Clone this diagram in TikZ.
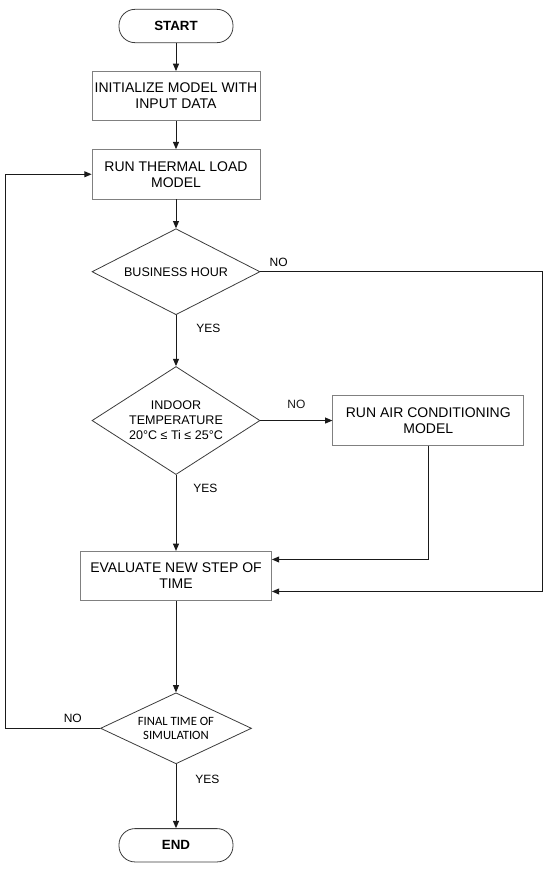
\documentclass[tikz,border=0pt]{standalone}
\usepackage{fontspec}
\setmainfont{Liberation Sans}
\newfontfamily\calfont{Carlito}
\definecolor{Ink}{HTML}{1A1A1A}
\definecolor{Frame}{HTML}{808080}
\definecolor{Rim}{HTML}{3C3C3C}
\usetikzlibrary{arrows.meta,positioning,shapes.geometric}

\begin{document}
\begin{tikzpicture}[
    term/.style={
      draw=Rim, line width=0.6pt, rounded corners=12pt,
      minimum width=85.5pt, minimum height=25pt, inner sep=0pt,
      font=\fontsize{10}{12}\selectfont\bfseries
    },
    box/.style={
      draw=Frame, line width=0.6pt, align=center,
      font=\fontsize{10.5}{12}\selectfont, inner sep=2pt,
      minimum width=126pt, minimum height=37pt
    },
    wide/.style={box, minimum width=143.25pt},
    dec/.style={
      diamond, draw=Rim, line width=0.6pt, align=center,
      inner sep=0pt, font=\fontsize{9.4}{11.25}\selectfont
    },
    lbl/.style={inner sep=0pt, font=\fontsize{9}{11}\selectfont},
    arr/.style={-{Triangle[length=5.5pt,width=4.5pt]}, line width=0.75pt, Ink}
  ]
    \useasboundingbox (0,0) rectangle (412.5pt,-653.25pt);

    \node[term] (start) at (132pt,-19.5pt) {START};
    \node[box, below=21pt of start] (init) {INITIALIZE MODEL WITH\\INPUT DATA};
    \node[box, below=21pt of init] (run) {RUN THERMAL LOAD\\MODEL};
    \node[dec, below=21.75pt of run, minimum width=126pt, minimum height=64.5pt,
      shape aspect=1.95] (hour) {BUSINESS HOUR};
    \node[dec, below=38.25pt of hour, minimum width=126pt, minimum height=81pt,
      shape aspect=1.56] (temp) {INDOOR\\TEMPERATURE\\20°C ≤ Ti ≤ 25°C};
    \node[wide, right=54pt of temp] (ac) {RUN AIR CONDITIONING\\MODEL};
    \node[wide, below=57pt of temp] (eval) {EVALUATE NEW STEP OF\\TIME};
    \node[dec, below=68.5pt of eval, minimum width=113.25pt, minimum height=53.25pt,
      shape aspect=2.13, font=\calfont\fontsize{9.5}{11}\selectfont] (final)
      {FINAL TIME OF\\SIMULATION};
    \node[term, below=48pt of final] (end) {END};

    % main column
    \draw[arr] (start) -- (init);
    \draw[arr] (init) -- (run);
    \draw[arr] (run) -- (hour);
    \draw[arr] (hour) -- (temp);
    \draw[arr] (temp) -- node[lbl, above=8.5pt] (tno) {NO} (ac);
    \draw[arr] (temp) -- (eval);
    \draw[arr] (eval) -- (final);
    \draw[arr] (final) -- (end);

    % side branches and loop back
    \draw[arr] (ac.south) |- ([yshift=12.4pt]eval.east);
    \draw[arr] (hour.east) -- ++(211.5pt,0) |- ([yshift=-11.6pt]eval.east);
    \draw[arr] (final.west) -- ++(-71.25pt,0) |- (run.west);

    \node[lbl, above right=4pt and 6.75pt of hour.east] (hno) {NO};
    \node[lbl, below right=6.4pt and 15pt of hour.south] (hyes) {YES};
    \node[lbl, below right=6.4pt and 12.75pt of temp.south] (tyes) {YES};
    \node[lbl, above left=4pt and 13.5pt of final.west] (fno) {NO};
    \node[lbl, below right=7.9pt and 14.25pt of final.south] (fyes) {YES};
  \end{tikzpicture}
\end{document}
